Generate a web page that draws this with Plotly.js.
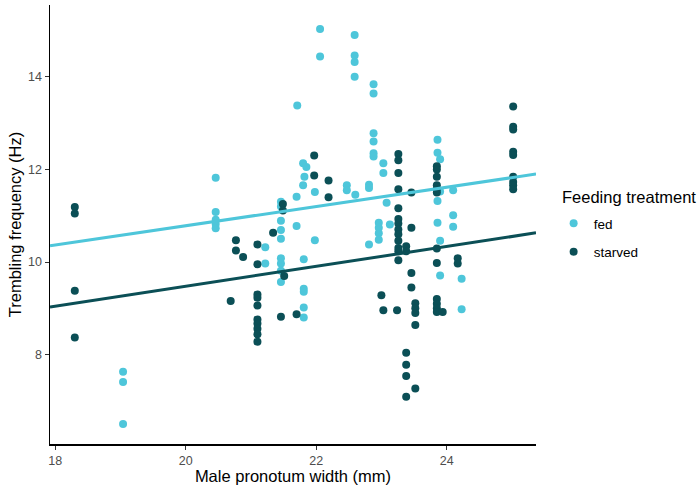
<!DOCTYPE html>
<html><head><meta charset="utf-8">
<script src="https://cdn.plot.ly/plotly-3.0.1.min.js"></script>
<style>body{margin:0;background:#fff}#chart{width:697px;height:486px}</style>
</head><body><div id="chart"></div>
<script>
const fedX = [19.04,19.04,19.04,
  20.46,20.46,20.46,20.46,20.46,
  21.22,21.22,
  21.46,21.46,21.46,21.46,21.46,21.46,21.46,21.46,21.46,
  21.7,21.7,21.71,
  21.81,21.81,21.81,21.81,21.81,
  21.8,21.85,21.82,21.8,21.98,21.98,
  22.06,22.06,
  22.47,22.47,22.6,
  22.59,22.59,22.59,22.59,
  22.81,22.81,22.81,
  22.88,22.88,22.88,22.88,22.88,22.88,
  22.96,22.96,22.96,22.96,
  23.03,23.03,23.08,23.13,
  23.86,23.86,23.9,23.9,23.86,23.86,23.9,23.9,
  24.1,24.1,24.1,24.23,24.23];
const fedY = [7.63,7.41,6.5,
  11.82,11.08,10.91,10.82,10.73,
  10.32,9.97,
  11.3,11.2,10.89,10.69,10.5,10.08,9.97,9.81,9.57,
  11.41,10.78,13.38,
  10.06,9.42,9.36,9.02,8.8,
  12.13,12.05,11.84,11.66,11.51,10.47,
  15.03,14.44,
  11.66,11.55,11.45,
  14.9,14.46,14.32,14.0,
  11.67,11.6,10.38,
  13.84,13.64,12.78,12.6,12.35,12.28,
  10.85,10.74,10.62,10.48,
  12.13,11.92,11.28,10.81,
  12.64,12.36,12.22,11.52,11.32,10.85,10.46,9.71,
  11.55,11.01,10.76,9.64,8.98];
const starvedX = [18.3,18.3,18.3,18.3,
  20.69,20.77,20.77,20.88,
  21.1,21.1,21.1,21.1,21.1,21.1,21.1,21.1,21.1,21.1,
  21.34,
  21.46,21.49,21.49,21.51,
  21.7,
  21.97,21.97,22.19,22.19,
  23.0,23.03,
  23.26,23.26,23.26,23.26,23.26,23.26,23.26,23.26,23.26,23.26,23.26,23.26,23.26,23.24,
  23.38,23.38,
  23.46,23.46,23.46,23.46,
  23.52,23.52,23.52,23.52,
  23.38,23.38,23.38,23.38,23.52,
  23.85,23.85,23.85,23.85,23.85,23.85,
  23.85,23.85,23.85,23.85,23.85,23.85,23.94,
  24.17,24.17,
  25.02,25.02,25.02,25.02,25.02,25.02,25.02,25.02,25.02];
const starvedY = [11.19,11.05,9.38,8.37,
  9.16,10.47,10.25,10.11,
  10.38,9.95,9.3,9.23,9.06,8.76,8.67,8.56,8.44,8.28,
  10.63,
  8.82,11.25,11.11,9.7,
  8.87,
  12.3,11.87,11.76,11.4,
  9.28,8.96,
  12.33,12.2,11.92,11.57,11.16,10.93,10.83,10.7,10.6,10.46,10.3,10.23,10.04,8.96,
  10.34,10.23,
  11.5,10.74,9.76,9.45,
  9.11,9.0,8.9,8.64,
  8.04,7.78,7.54,7.09,7.27,
  12.07,12.0,11.84,11.66,11.57,11.5,
  10.29,9.98,9.2,9.1,9.0,8.92,8.92,
  10.08,9.97,
  13.36,12.92,12.86,12.38,12.31,11.84,11.73,11.66,11.57];
const fitX = [17.92, 25.37];
const fedFit = [10.35, 11.9];
const starvedFit = [9.03, 10.63];
const xTicks = [18, 20, 22, 24];
const yTicks = [8, 10, 12, 14];

const cFed = '#4ec6da', cStarved = '#0b4f56';
const traces = [
  {x: fedX, y: fedY, type:'scatter', mode:'markers', name:'fed', legendgroup:'a', marker:{color:cFed, size:8}},
  {x: starvedX, y: starvedY, type:'scatter', mode:'markers', name:'starved', legendgroup:'b', marker:{color:cStarved, size:8}},
  {x: fitX, y: fedFit, type:'scatter', mode:'lines', line:{color:cFed, width:3}, showlegend:false, hoverinfo:'skip'},
  {x: fitX, y: starvedFit, type:'scatter', mode:'lines', line:{color:cStarved, width:3}, showlegend:false, hoverinfo:'skip'}
];
const axFont = {family:'Liberation Sans, Arial, sans-serif', size:12.5, color:'#4d4d4d'};
const layout = {
  width:697, height:486,
  margin:{l:50, r:161, t:5, b:42},
  paper_bgcolor:'#fff', plot_bgcolor:'#fff',
  font:{family:'Liberation Sans, Arial, sans-serif'},
  xaxis:{range:[17.92,25.37], tickvals:xTicks, ticktext:xTicks.map(String), showgrid:false, zeroline:false,
    showline:true, linecolor:'#000', linewidth:1.5, ticks:'outside', ticklen:4, tickcolor:'#333', tickfont:axFont,
    title:{text:'Male pronotum width (mm)', font:{size:16.5, color:'#000'}, standoff:4}},
  yaxis:{range:[6.07,15.55], tickvals:yTicks, ticktext:yTicks.map(String), showgrid:false, zeroline:false,
    showline:true, linecolor:'#000', linewidth:1.5, ticks:'outside', ticklen:4, tickcolor:'#333', tickfont:axFont,
    title:{text:'Trembling frequency (Hz)', font:{size:16.5, color:'#000'}, standoff:2}},
  legend:{xref:'container', yref:'container', x:0.7943, y:0.572, xanchor:'left', yanchor:'top',
    font:{size:13.5, color:'#000'}, traceorder:'grouped', tracegroupgap:8},
  annotations:[{xref:'paper', yref:'paper', x:1.049, y:0.5626, xanchor:'left', yanchor:'middle', showarrow:false,
    text:'Feeding treatment', font:{size:16.5, color:'#000'}}],
  showlegend:true
};
Plotly.newPlot('chart', traces, layout, {staticPlot:true});
</script></body></html>
